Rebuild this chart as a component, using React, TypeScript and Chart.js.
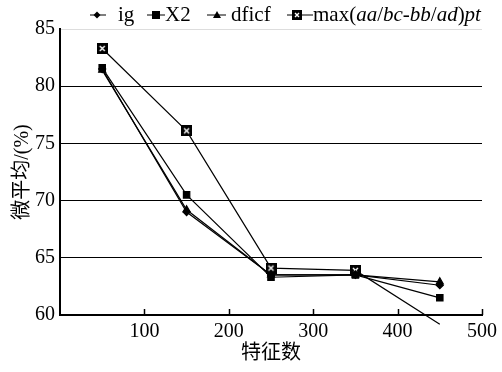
import { useEffect, useRef } from 'react';
import { Chart, registerables } from 'chart.js';

Chart.register(...registerables);

const featureCounts = [50, 150, 250, 350, 450];
const igValues = [81.5, 69.0, 63.5, 63.5, 62.6];
const x2Values = [81.6, 70.5, 63.3, 63.5, 61.5];
const dficfValues = [81.4, 69.2, 63.5, 63.5, 62.9];
const maxValues = [83.3, 76.1, 64.1, 63.9, 59.2];
const xTicks = [0, 100, 200, 300, 400, 500];
const yTicks = [60, 65, 70, 75, 80, 85];

const FONT = "'Liberation Serif', 'Times New Roman', Times, 'Noto Sans CJK SC', serif";

function makeBoxX(size: number) {
  const c = document.createElement('canvas');
  c.width = size;
  c.height = size;
  const g = c.getContext('2d')!;
  g.fillStyle = '#000';
  g.fillRect(0, 0, size, size);
  g.strokeStyle = '#fff';
  g.lineWidth = 1.4;
  g.beginPath();
  g.moveTo(3, 3);
  g.lineTo(size - 3, size - 3);
  g.moveTo(size - 3, 3);
  g.lineTo(3, size - 3);
  g.stroke();
  return c;
}

function drawMarker(ctx: CanvasRenderingContext2D, kind: string, x: number, y: number, box?: HTMLCanvasElement) {
  ctx.fillStyle = '#000';
  ctx.beginPath();
  if (kind === 'diamond') {
    ctx.moveTo(x, y - 3.5);
    ctx.lineTo(x + 3.5, y);
    ctx.lineTo(x, y + 3.5);
    ctx.lineTo(x - 3.5, y);
    ctx.closePath();
    ctx.fill();
  } else if (kind === 'square') {
    ctx.fillRect(x - 4, y - 4, 8, 8);
  } else if (kind === 'triangle') {
    ctx.moveTo(x, y - 4);
    ctx.lineTo(x + 4, y + 3);
    ctx.lineTo(x - 4, y + 3);
    ctx.closePath();
    ctx.fill();
  } else if (kind === 'box' && box) {
    ctx.drawImage(box, x - box.width / 2, y - box.height / 2);
  }
}

export default function App() {
  const ref = useRef<HTMLCanvasElement>(null);
  useEffect(() => {
    if (!ref.current) return;
    let chart: any = null;
    let cancelled = false;
    const box = makeBoxX(11);
    const legendBox = makeBoxX(10);

    const legendPlugin = {
      id: 'customLegend',
      afterDraw(ch: any) {
        const ctx: CanvasRenderingContext2D = ch.ctx;
        ctx.save();
        const ly = 15;
        const items = [
          { x1: 90, x2: 106, mx: 97, kind: 'diamond', tx: 118, parts: [['ig', false]] },
          { x1: 147, x2: 165, mx: 156, kind: 'square', tx: 165, parts: [['X2', false]] },
          { x1: 207, x2: 226, mx: 217, kind: 'triangle', tx: 231, parts: [['dficf', false]] },
          {
            x1: 287, x2: 313, mx: 297, kind: 'box', tx: 313,
            parts: [['max(', false], ['aa', true], ['/', false], ['bc', true], ['-', false], ['bb', true], ['/', false], ['ad', true], [')', false], ['pt', true]],
          },
        ];
        ctx.strokeStyle = '#000';
        ctx.lineWidth = 1;
        ctx.textBaseline = 'alphabetic';
        ctx.fillStyle = '#000';
        for (const it of items) {
          ctx.beginPath();
          ctx.moveTo(it.x1, ly);
          ctx.lineTo(it.x2, ly);
          ctx.stroke();
          drawMarker(ctx, it.kind, it.mx, ly, legendBox);
          let x = it.tx;
          for (const [t, ital] of it.parts as [string, boolean][]) {
            ctx.font = `${ital ? 'italic ' : ''}21px ${FONT}`;
            ctx.fillStyle = '#000';
            ctx.fillText(t, x, 21);
            x += ctx.measureText(t).width;
          }
        }
        ctx.restore();
      },
    };

    const tickPlugin = {
      id: 'innerTicks',
      afterDraw(ch: any) {
        const ctx: CanvasRenderingContext2D = ch.ctx;
        const xs = ch.scales.x;
        const yb = ch.chartArea.bottom;
        ctx.save();
        ctx.strokeStyle = '#000';
        ctx.lineWidth = 1.5;
        for (const v of xTicks) {
          if (v === 0) continue;
          const px = Math.round(xs.getPixelForValue(v)) + 0.5;
          ctx.beginPath();
          ctx.moveTo(px, yb);
          ctx.lineTo(px, yb - 6);
          ctx.stroke();
        }
        ctx.restore();
      },
    };

    const common = {
      borderColor: '#000',
      backgroundColor: '#000',
      borderWidth: 1.2,
      pointBorderColor: '#000',
      pointBackgroundColor: '#000',
      tension: 0,
    };

    const build = () => {
      if (cancelled || !ref.current) return;
      chart = new Chart(ref.current, {
        type: 'line',
        data: {
          datasets: [
            { ...common, label: 'ig', data: featureCounts.map((x, i) => ({ x, y: igValues[i] })), pointStyle: 'rectRot', pointRadius: 3.5 },
            { ...common, label: 'X2', data: featureCounts.map((x, i) => ({ x, y: x2Values[i] })), pointStyle: 'rect', pointRadius: 4.5 },
            { ...common, label: 'dficf', data: featureCounts.map((x, i) => ({ x, y: dficfValues[i] })), pointStyle: 'triangle', pointRadius: 4 },
            {
              ...common,
              label: 'max(aa/bc-bb/ad)pt',
              data: featureCounts.map((x, i) => ({ x, y: maxValues[i] })),
              pointStyle: box as any,
              pointRadius: [5, 5, 5, 5, 0],
              clip: false as any,
            },
          ],
        },
        options: {
          animation: false,
          responsive: true,
          maintainAspectRatio: false,
          layout: { padding: { top: 29, right: 16, left: 0, bottom: 0 } },
          plugins: { legend: { display: false }, tooltip: { enabled: false } },
          scales: {
            x: {
              type: 'linear',
              min: 0,
              max: 500,
              afterBuildTicks: (s: any) => { s.ticks = xTicks.map((v) => ({ value: v })); },
              afterFit: (s: any) => { s.height = 57; },
              grid: { drawOnChartArea: false, drawTicks: false },
              border: { display: true, color: '#000', width: 2 },
              ticks: {
                color: '#000',
                padding: 5,
                font: { family: FONT, size: 20 },
                callback: (v: any) => (v === 0 ? '' : String(v)),
              },
              title: { display: true, text: '特征数', color: '#000', font: { family: FONT, size: 20 }, padding: { top: 0, bottom: 6 } },
            },
            y: {
              min: 60,
              max: 85,
              afterBuildTicks: (s: any) => { s.ticks = yTicks.map((v) => ({ value: v })); },
              afterFit: (s: any) => { s.width = 60; },
              grid: {
                drawTicks: false,
                color: (c: any) => (c.tick && c.tick.value === 85 ? '#dddddd' : '#000'),
                lineWidth: 1,
              },
              border: { display: true, color: '#000', width: 2 },
              ticks: { color: '#000', padding: 5, font: { family: FONT, size: 20 } },
              title: { display: true, text: '微平均/(%)', color: '#000', font: { family: FONT, size: 20 }, padding: { top: 11, bottom: 0 } },
            },
          },
        },
        plugins: [legendPlugin, tickPlugin],
      } as any);
    };

    const fonts: any = (document as any).fonts;
    if (fonts && fonts.load) {
      Promise.all([
        fonts.load("20px 'Liberation Serif'"),
        fonts.load("italic 20px 'Liberation Serif'"),
      ]).then(build, build);
    } else {
      build();
    }
    return () => {
      cancelled = true;
      if (chart) chart.destroy();
    };
  }, []);

  return (
    <div style={{ position: 'absolute', left: 0, top: 0, width: 502, height: 372, background: '#fff' }}>
      <canvas ref={ref} />
    </div>
  );
}
